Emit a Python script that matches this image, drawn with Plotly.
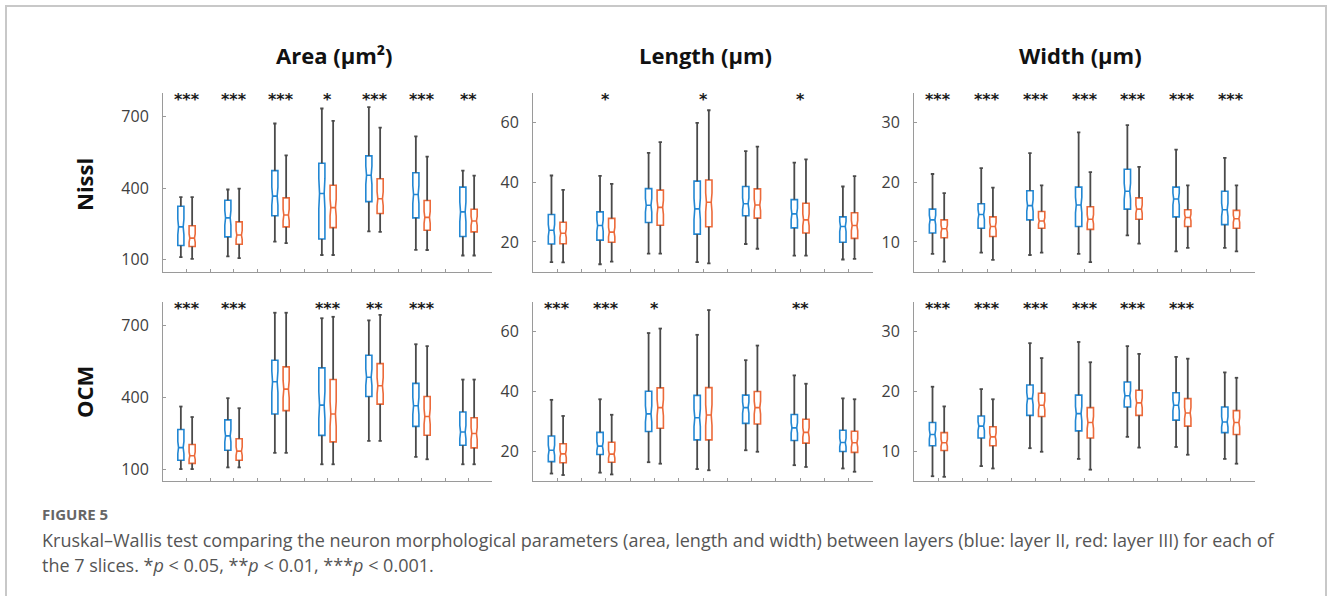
import plotly.graph_objects as go

# ---------------- data ----------------
SLICES = [1, 2, 3, 4, 5, 6, 7]
COL_TITLES = ["Area (μm²)", "Length (μm)", "Width (μm)"]
ROW_TITLES = ["Nissl", "OCM"]

# each box: [lower whisker, q1, median, q3, upper whisker]
area_nissl_II = [[111, 160, 238, 325, 363], [114, 196, 276, 350, 395], [176, 285, 367, 474, 672],
                 [120, 187, 378, 505, 735], [219, 344, 455, 536, 741], [142, 276, 374, 465, 618],
                 [118, 198, 301, 405, 474]]
area_nissl_III = [[104, 156, 191, 243, 363], [107, 165, 204, 259, 399], [170, 238, 288, 360, 538],
                  [120, 235, 319, 413, 683], [217, 294, 356, 440, 655], [141, 224, 278, 349, 533],
                  [118, 217, 263, 312, 453]]
area_ocm_II = [[100, 137, 190, 266, 362], [107, 179, 239, 306, 397], [168, 331, 466, 556, 755],
               [120, 241, 368, 524, 732], [218, 404, 485, 577, 723], [151, 279, 365, 459, 623],
               [120, 200, 255, 339, 475]]
area_ocm_III = [[100, 124, 156, 203, 318], [107, 137, 175, 227, 355], [168, 345, 435, 528, 755],
                [120, 214, 331, 475, 738], [218, 372, 449, 542, 746], [141, 242, 320, 404, 615],
                [120, 189, 249, 315, 475]]

length_nissl_II = [[13.2, 19.3, 23.9, 29.2, 42.3], [12.5, 20.6, 25.5, 30.1, 42.2], [16.1, 26.5, 32.3, 37.9, 49.9],
                   [13.2, 22.6, 31.1, 40.4, 60.0], [19.3, 28.8, 32.8, 38.6, 50.5], [15.4, 24.7, 29.4, 34.2, 46.6],
                   [14.1, 19.9, 25.2, 28.4, 38.6]]
length_nissl_III = [[13.1, 19.4, 22.9, 26.6, 37.5], [13.4, 19.9, 23.3, 27.9, 39.5], [16.1, 25.6, 31.6, 37.4, 53.5],
                    [12.8, 25.1, 33.3, 40.8, 64.2], [17.7, 28.0, 32.4, 37.8, 52.0], [15.4, 23.0, 27.4, 33.0, 47.7],
                    [14.3, 21.2, 25.5, 29.8, 42.1]]
length_ocm_II = [[12.5, 16.5, 20.3, 25.1, 37.2], [12.8, 18.9, 21.7, 26.3, 37.4], [16.3, 26.6, 32.5, 40.1, 59.6],
                 [14.0, 23.8, 31.2, 38.7, 59.0], [20.3, 29.3, 34.6, 38.8, 50.5], [15.3, 23.6, 27.8, 32.3, 45.4],
                 [14.2, 19.9, 22.9, 27.0, 37.7]]
length_ocm_III = [[12.0, 16.1, 19.1, 22.5, 31.8], [12.2, 16.3, 19.0, 23.0, 32.2], [15.8, 27.7, 34.6, 41.2, 61.1],
                  [13.6, 23.8, 32.1, 41.3, 67.3], [19.8, 29.1, 34.6, 40.0, 55.4], [14.7, 22.7, 26.3, 30.7, 42.6],
                  [13.1, 19.6, 22.8, 26.7, 37.4]]

width_nissl_II = [[8.0, 11.5, 13.7, 15.5, 21.4], [8.2, 12.3, 14.6, 16.4, 22.4], [7.8, 13.7, 16.1, 18.6, 24.9],
                  [8.0, 12.6, 16.2, 19.2, 28.4], [11.1, 15.5, 18.5, 22.2, 29.6], [8.4, 14.2, 17.2, 19.2, 25.5],
                  [9.0, 12.9, 15.4, 18.5, 24.1]]
width_nissl_III = [[6.7, 10.7, 12.2, 13.7, 18.2], [7.0, 10.9, 12.6, 14.2, 19.1], [8.2, 12.3, 13.5, 15.1, 19.5],
                   [6.6, 12.1, 13.8, 15.9, 21.7], [9.7, 13.8, 15.5, 17.4, 22.6], [9.0, 12.6, 14.1, 15.4, 19.5],
                   [8.4, 12.3, 13.9, 15.3, 19.5]]
width_ocm_II = [[5.8, 10.9, 12.8, 14.8, 20.8], [7.5, 12.2, 14.2, 15.9, 20.4], [10.5, 16.0, 18.8, 21.1, 28.1],
                [8.7, 13.4, 16.3, 19.4, 28.3], [12.4, 17.4, 19.3, 21.6, 27.6], [10.7, 15.2, 17.7, 19.8, 25.8],
                [8.7, 13.1, 14.9, 17.4, 23.2]]
width_ocm_III = [[5.7, 10.1, 11.4, 13.1, 17.5], [7.1, 10.9, 12.4, 14.1, 18.7], [9.9, 15.8, 17.7, 19.7, 25.6],
                 [6.9, 12.2, 14.8, 17.3, 24.9], [10.6, 16.0, 18.1, 20.2, 26.3], [9.4, 14.2, 16.4, 18.8, 25.5],
                 [7.9, 12.8, 14.8, 16.8, 22.3]]

area_nissl_sig = ["***", "***", "***", "*", "***", "***", "**"]
area_ocm_sig = ["***", "***", "", "***", "**", "***", ""]
length_nissl_sig = ["", "*", "", "*", "", "*", ""]
length_ocm_sig = ["***", "***", "*", "", "", "**", ""]
width_nissl_sig = ["***"] * 7
width_ocm_sig = ["***", "***", "***", "***", "***", "***", ""]

area_ticks = [100, 400, 700]
length_ticks = [20, 40, 60]
width_ticks = [10, 20, 30]

# ---------------- styles ----------------
W, H = 1330, 596
BLUE = "#2287d3"
RED = "#ec6a3a"
WHISK = "#4a4a4a"
OFFSET = 0.12
BOXW = 0.13
CAP = 0.035
NOTCH_FRAC = 0.2

panels = [
    # (row, col, layerII, layerIII, sig, range, ticks)
    (0, 0, area_nissl_II, area_nissl_III, area_nissl_sig, [50, 800], area_ticks),
    (0, 1, length_nissl_II, length_nissl_III, length_nissl_sig, [10, 70], length_ticks),
    (0, 2, width_nissl_II, width_nissl_III, width_nissl_sig, [5, 35], width_ticks),
    (1, 0, area_ocm_II, area_ocm_III, area_ocm_sig, [50, 800], area_ticks),
    (1, 1, length_ocm_II, length_ocm_III, length_ocm_sig, [10, 70], length_ticks),
    (1, 2, width_ocm_II, width_ocm_III, width_ocm_sig, [5, 35], width_ticks),
]

COL_PX = [(163, 492), (533, 873), (914, 1255)]
ROW_PX = [(93, 271.7), (302, 481)]

fig = go.Figure()
layout = {}
annotations = []


def px_x(p):
    return p / W


def px_y(p):
    return 1 - p / H


for (r, c, s2, s3, sig, yr, yt) in panels:
    k = r * 3 + c + 1
    xa = "x" if k == 1 else f"x{k}"
    ya = "y" if k == 1 else f"y{k}"
    for stats, col, off in ((s2, BLUE, -OFFSET), (s3, RED, OFFSET)):
        xs = [s + off for s in SLICES]
        lo = [b[0] for b in stats]
        q1 = [b[1] for b in stats]
        med = [b[2] for b in stats]
        q3 = [b[3] for b in stats]
        hi = [b[4] for b in stats]
        # whiskers
        wx, wy = [], []
        for x, a, b1, b3, e in zip(xs, lo, q1, q3, hi):
            wx += [x, x, None, x, x, None, x - CAP, x + CAP, None, x - CAP, x + CAP, None]
            wy += [a, b1, None, b3, e, None, a, a, None, e, e, None]
        fig.add_trace(go.Scatter(x=wx, y=wy, mode="lines", line=dict(color=WHISK, width=1.8),
                                 xaxis=xa, yaxis=ya, showlegend=False, hoverinfo="skip"))
        fig.add_trace(go.Box(x=xs, q1=q1, median=med, q3=q3, lowerfence=q1, upperfence=q3,
                             notched=True, notchwidth=0.12,
                             notchspan=[NOTCH_FRAC * (b - a) for a, b in zip(q1, q3)],
                             width=BOXW, whiskerwidth=0,
                             line=dict(color=col, width=1.6), fillcolor="rgba(255,255,255,0)",
                             xaxis=xa, yaxis=ya, showlegend=False, boxpoints=False))
    x0, x1 = COL_PX[c]
    yt0, yb0 = ROW_PX[r]
    layout["xaxis" if k == 1 else f"xaxis{k}"] = dict(
        domain=[px_x(x0), px_x(x1)], anchor=ya, range=[0.5, 7.5],
        showline=True, linecolor="#9a9a9a", linewidth=1, mirror=False,
        ticks="inside", ticklen=3, tickcolor="#9a9a9a",
        tickvals=[v / 2 for v in range(2, 15)], showticklabels=False,
        showgrid=False, zeroline=False, fixedrange=True)
    layout["yaxis" if k == 1 else f"yaxis{k}"] = dict(
        domain=[px_y(yb0), px_y(yt0)], anchor=xa, range=yr,
        showline=True, linecolor="#9a9a9a", linewidth=1,
        ticks="inside", ticklen=3, tickcolor="#9a9a9a",
        tickvals=yt, ticklabelstandoff=10,
        tickfont=dict(family="Open Sans", size=16, color="#404040"),
        showgrid=False, zeroline=False, fixedrange=True)
    for s, t in zip(SLICES, sig):
        if t:
            annotations.append(dict(x=s, y=0.965, xref=xa, yref=f"{ya} domain", text=f"<b>{t}</b>",
                                    showarrow=False, xanchor="center", yanchor="middle",
                                    font=dict(family="DejaVu Sans", size=16, color="#1a1a1a")))

# column titles
for cx, t in zip([334, 705, 1080], COL_TITLES):
    annotations.append(dict(x=px_x(cx), y=px_y(55), xref="paper", yref="paper", text=f"<b>{t}</b>",
                            showarrow=False, xanchor="center", yanchor="middle",
                            font=dict(family="Open Sans", size=22, color="#111")))
# row titles
for cy, t in zip([185, 392], ROW_TITLES):
    annotations.append(dict(x=px_x(84), y=px_y(cy), xref="paper", yref="paper", text=f"<b>{t}</b>",
                            showarrow=False, xanchor="center", yanchor="middle", textangle=-90,
                            font=dict(family="Open Sans", size=22, color="#111")))

# caption
annotations.append(dict(x=px_x(40), y=px_y(514), xref="paper", yref="paper", text="<b>FIGURE 5</b>",
                        showarrow=False, xanchor="left", yanchor="middle",
                        font=dict(family="Open Sans", size=15, color="#666")))
annotations.append(dict(x=px_x(40), y=px_y(540), xref="paper", yref="paper",
                        text="Kruskal–Wallis test comparing the neuron morphological parameters (area, length and width) "
                             "between layers (blue: layer II, red: layer III) for each of",
                        showarrow=False, xanchor="left", yanchor="middle",
                        font=dict(family="Open Sans", size=18, color="#555")))
annotations.append(dict(x=px_x(40), y=px_y(565), xref="paper", yref="paper",
                        text="the 7 slices. *<i>p</i> &lt; 0.05, **<i>p</i> &lt; 0.01, ***<i>p</i> &lt; 0.001.",
                        showarrow=False, xanchor="left", yanchor="middle",
                        font=dict(family="Open Sans", size=18, color="#555")))

# outer frame
frame = dict(type="path", xref="paper", yref="paper",
             path=f"M {px_x(6)},0 L {px_x(6)},{px_y(6)} L {px_x(1326)},{px_y(6)} L {px_x(1326)},0",
             line=dict(color="#c8c8c8", width=2))

fig.update_layout(width=W, height=H, margin=dict(l=0, r=0, t=0, b=0, autoexpand=False),
                  paper_bgcolor="white", plot_bgcolor="white", showlegend=False,
                  boxmode="overlay", annotations=annotations, shapes=[frame], **layout)

fig.write_html("out.html")
